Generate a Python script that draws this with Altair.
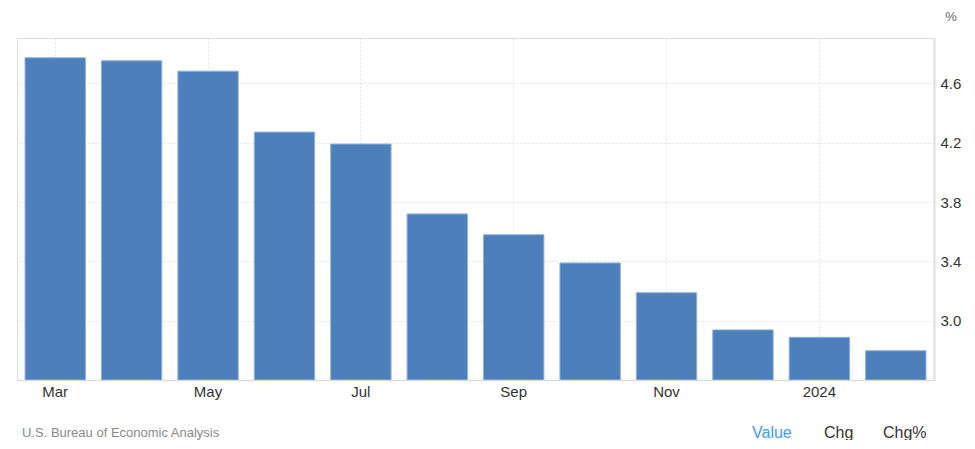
import altair as alt
import pandas as pd

months = ["Mar", "Apr", "May", "Jun", "Jul", "Aug", "Sep", "Oct", "Nov", "Dec", "Jan", "Feb"]
values = [4.77, 4.75, 4.68, 4.27, 4.19, 3.72, 3.58, 3.39, 3.19, 2.94, 2.89, 2.80]
tick_months = ["Mar", "May", "Jul", "Sep", "Nov", "Jan"]
y_ticks = [3.0, 3.4, 3.8, 4.2, 4.6]
Y_MIN, Y_MAX = 2.603, 4.903

df = pd.DataFrame({"month": months, "value": values})
one = pd.DataFrame({"k": [0]})

W, H = 917, 342
FONT = "Liberation Sans"

bars = alt.Chart(df).mark_bar(
    color="#4d7fbb", stroke="#8fb0dc", strokeWidth=1, clip=True
).encode(
    x=alt.X("month:N", sort=months, title=None,
            scale=alt.Scale(paddingInner=0.21, paddingOuter=0.105),
            axis=alt.Axis(values=tick_months, bandPosition=0.5,
                          labelExpr="datum.value == 'Jan' ? '2024' : datum.value",
                          labelAngle=0, labelFontSize=15, labelColor="#333333",
                          labelFont=FONT, labelPadding=4, ticks=False,
                          domainColor="#dddddd", domainWidth=1.5,
                          grid=True, gridColor="#e3e3e3", gridDash=[2, 2])),
    y=alt.Y("value:Q", title=None,
            scale=alt.Scale(domain=[Y_MIN, Y_MAX], nice=False, zero=False),
            axis=alt.Axis(orient="right", values=y_ticks, format=".1f",
                          labelFontSize=15, labelColor="#333333", labelFont=FONT,
                          labelPadding=6, ticks=False,
                          domainColor="#dddddd", domainWidth=2,
                          grid=True, gridColor="#e3e3e3", gridDash=[2, 2])),
    y2=alt.datum(Y_MIN),
)

def label(text, x, y, size, color, align="left"):
    return alt.Chart(one).mark_text(
        text=text, fontSize=size, color=color, font=FONT, align=align, baseline="middle"
    ).encode(x=alt.value(x), y=alt.value(y))

pct = label("%", 934, -21, 13, "#666666", align="center")
source = label("U.S. Bureau of Economic Analysis", 5, 395, 13, "#8a8a8a")
value_lbl = label("Value", 735, 395, 16, "#3d9bf0")
chg_lbl = label("Chg", 807, 395, 16, "#333333")
chgp_lbl = label("Chg%", 866, 395, 16, "#333333")

chart = alt.layer(bars, pct, source, value_lbl, chg_lbl, chgp_lbl).properties(
    width=W, height=H,
    autosize=alt.AutoSizeParams(type="none"),
    padding={"left": 9, "top": 30, "right": 32, "bottom": 60},
).configure_view(
    stroke="#e3e3e3", strokeDash=[2, 2]
).configure(background="white")

chart.save("out.html", embed_options={"renderer": "svg", "actions": False})
